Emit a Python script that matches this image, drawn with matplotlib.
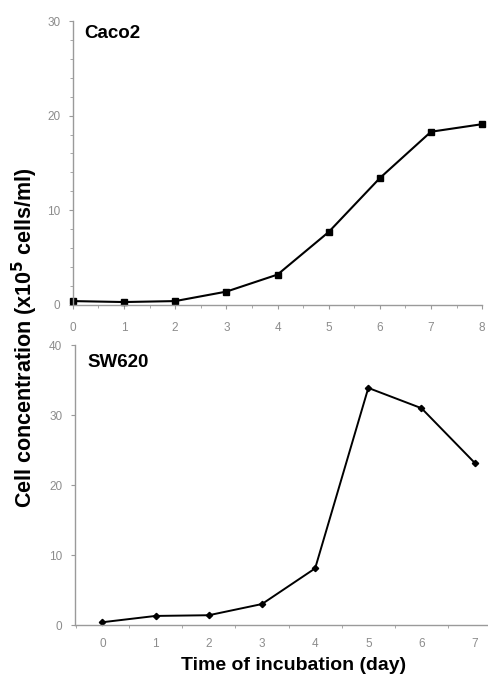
import matplotlib
matplotlib.use("Agg")
import matplotlib.pyplot as plt
from matplotlib.ticker import MultipleLocator

plt.rcParams["font.family"] = ["Liberation Sans", "DejaVu Sans"]

caco_days = [0, 1, 2, 3, 4, 5, 6, 7, 8]
caco_conc = [0.4, 0.3, 0.4, 1.4, 3.2, 7.7, 13.4, 18.3, 19.1]
sw_days = [0, 1, 2, 3, 4, 5, 6, 7]
sw_conc = [0.4, 1.3, 1.4, 3.0, 8.1, 33.9, 31.0, 23.2]

GREY = "#9a9a9a"
TXT = "#8c8c8c"


def _style(ax):
    for s in ("top", "right"):
        ax.spines[s].set_visible(False)
    for s in ("left", "bottom"):
        ax.spines[s].set_color(GREY)
        ax.spines[s].set_linewidth(1.0)
    ax.tick_params(which="both", colors=GREY, labelcolor=TXT, labelsize=8.5,
                   direction="out")
    ax.tick_params(which="major", length=3)
    ax.tick_params(which="minor", length=2)


fig = plt.figure(figsize=(4.89, 6.79), dpi=100)

ax1 = fig.add_axes([0.149, 0.551, 0.837, 0.418])
ax1.plot(caco_days, caco_conc, "-s", color="black", lw=1.5, ms=5, clip_on=False)
ax1.set_xlim(0, 8)
ax1.set_ylim(0, 30)
ax1.set_xticks(range(0, 9))
ax1.set_yticks([0, 10, 20, 30])
ax1.xaxis.set_minor_locator(MultipleLocator(0.5))
ax1.yaxis.set_minor_locator(MultipleLocator(2))
_style(ax1)
ax1.tick_params(axis="x", pad=9)
ax1.tick_params(axis="y", pad=6)
ax1.text(0.029, 0.985, "Caco2", transform=ax1.transAxes, fontsize=13.5,
         fontweight="bold", va="top", ha="left")

ax2 = fig.add_axes([0.153, 0.0795, 0.847, 0.412])
ax2.plot(sw_days, sw_conc, "-D", color="black", lw=1.4, ms=3.2, clip_on=False)
ax2.set_xlim(-0.52, 7.27)
ax2.set_ylim(0, 40)
ax2.set_xticks(range(0, 8))
ax2.set_yticks([0, 10, 20, 30, 40])
ax2.xaxis.set_minor_locator(MultipleLocator(1, offset=0.5))
_style(ax2)
ax2.tick_params(axis="x", which="major", length=0, pad=9)
ax2.tick_params(axis="y", pad=6)
ax2.text(0.031, 0.97, "SW620", transform=ax2.transAxes, fontsize=13.5,
         fontweight="bold", va="top", ha="left")
ax2.set_xlabel("Time of incubation (day)", fontsize=14, fontweight="bold")
ax2.xaxis.set_label_coords(0.527, -0.115)

fig.text(0.05, 0.502, "Cell concentration (x10$^{\\mathbf{5}}$ cells/ml)",
         rotation=90, fontsize=15.5, fontweight="bold", va="center", ha="center")

fig.savefig("out.png", dpi=100)
